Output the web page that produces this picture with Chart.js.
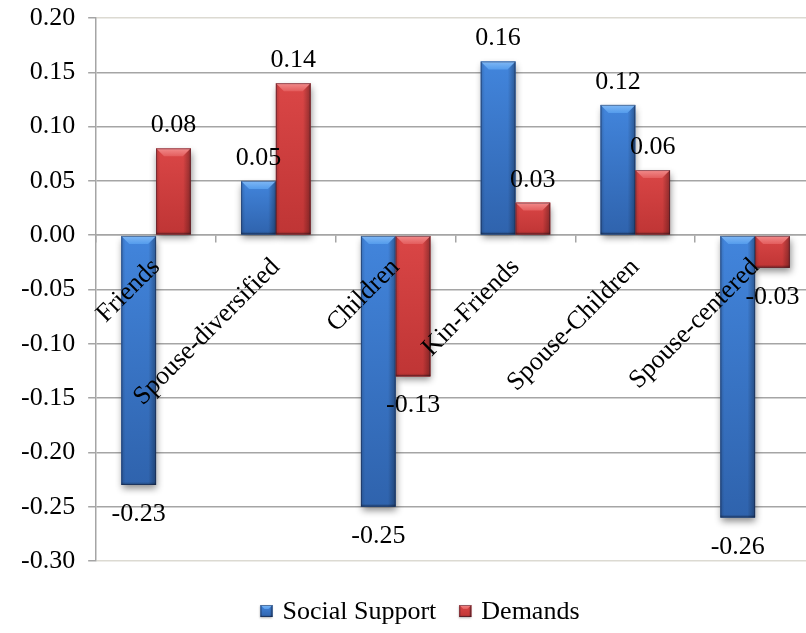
<!DOCTYPE html>
<html>
<head>
<meta charset="utf-8">
<script src="https://cdn.jsdelivr.net/npm/chart.js@4.4.0/dist/chart.umd.min.js"></script>
<style>
  html, body { margin: 0; padding: 0; background: #ffffff; overflow: hidden; }
  #wrap { width: 822px; height: 633px; }
</style>
</head>
<body>
<div id="wrap"><canvas id="chart" width="822" height="633"></canvas></div>
<script>
// Network type categories and mean scores per series
const categories = ['Friends', 'Spouse-diversified', 'Children', 'Kin-Friends', 'Spouse-Children', 'Spouse-centered'];
const socialSupport = [-0.23, 0.05, -0.25, 0.16, 0.12, -0.26];
const demands = [0.08, 0.14, -0.13, 0.03, 0.06, -0.03];
const seriesNames = ['Social Support', 'Demands'];
const yMin = -0.30;
const yMax = 0.20;
const yStep = 0.05;

const FONT = "'Liberation Serif', 'Times New Roman', serif";
Chart.defaults.font.family = FONT;
Chart.defaults.font.size = 26;
Chart.defaults.color = '#000000';

const BLUE = { top: '#4285dc', bottom: '#2f63ad', hi: '#80b8f5', hi2: '#559cec' };
const RED  = { top: '#da4646', bottom: '#bf3535', hi: '#f28c8c', hi2: '#e35d5d' };

// Bevelled bar face: shaded body, light top facet, darker bottom band, thin outline
function paintBevel(ctx, l, t, r, b, pal, bevel) {
  const w = r - l, h = b - t;
  if (w <= 0 || h <= 0) return;
  const bv = Math.min(bevel, w / 2, h);
  const sd = Math.min(Math.max(2, bevel / 2.5), h / 2);
  let g = ctx.createLinearGradient(0, t, 0, b);
  g.addColorStop(0, pal.top);
  g.addColorStop(1, pal.bottom);
  ctx.fillStyle = g;
  ctx.fillRect(l, t, w, h);
  // side shading
  g = ctx.createLinearGradient(l, 0, r, 0);
  g.addColorStop(0, 'rgba(0,0,0,0.16)');
  g.addColorStop(0.12, 'rgba(0,0,0,0)');
  g.addColorStop(0.78, 'rgba(0,0,0,0)');
  g.addColorStop(1, 'rgba(0,0,0,0.33)');
  ctx.fillStyle = g;
  ctx.fillRect(l, t, w, h);
  // top facet
  g = ctx.createLinearGradient(0, t, 0, t + bv);
  g.addColorStop(0, pal.hi);
  g.addColorStop(1, pal.hi2);
  ctx.fillStyle = g;
  ctx.beginPath();
  ctx.moveTo(l, t);
  ctx.lineTo(r, t);
  ctx.lineTo(r - bv, t + bv);
  ctx.lineTo(l + bv, t + bv);
  ctx.closePath();
  ctx.fill();
  // bottom band
  g = ctx.createLinearGradient(0, b - sd, 0, b);
  g.addColorStop(0, 'rgba(0,0,0,0)');
  g.addColorStop(1, 'rgba(0,0,0,0.3)');
  ctx.fillStyle = g;
  ctx.fillRect(l, b - sd, w, sd);
  ctx.strokeStyle = 'rgba(20,20,40,0.4)';
  ctx.lineWidth = 1;
  ctx.strokeRect(l + 0.5, t + 0.5, w - 1, h - 1);
}

const PALETTES = [BLUE, RED];

const barStyle = {
  id: 'barStyle',
  beforeDatasetsDraw(chart) {
    const ctx = chart.ctx;
    ctx.save();
    ctx.shadowColor = 'rgba(0,0,0,0.45)';
    ctx.shadowBlur = 7;
    ctx.shadowOffsetX = 1;
    ctx.shadowOffsetY = 4;
  },
  afterDatasetsDraw(chart) {
    const ctx = chart.ctx;
    ctx.restore();
    ctx.save();
    chart.data.datasets.forEach((ds, i) => {
      const meta = chart.getDatasetMeta(i);
      meta.data.forEach((bar) => {
        const p = bar.getProps(['x', 'y', 'base', 'width'], true);
        const l = p.x - p.width / 2, r = p.x + p.width / 2;
        const t = Math.min(p.y, p.base), b = Math.max(p.y, p.base);
        paintBevel(ctx, l, t, r, b, PALETTES[i], 8);
      });
    });
    // value labels above positive bars, below negative bars
    ctx.font = '26px ' + FONT;
    ctx.fillStyle = '#000000';
    ctx.textAlign = 'center';
    ctx.textBaseline = 'alphabetic';
    chart.data.datasets.forEach((ds, i) => {
      const meta = chart.getDatasetMeta(i);
      meta.data.forEach((bar, j) => {
        const v = ds.data[j];
        const p = bar.getProps(['x', 'y'], true);
        const txt = v.toFixed(2);
        if (v >= 0) ctx.fillText(txt, p.x, p.y - 16);
        else ctx.fillText(txt, p.x, p.y + 36);
      });
    });
    ctx.restore();
  }
};

// Series key along the bottom edge, centred under the plot
const seriesKey = {
  id: 'seriesKey',
  afterDraw(chart) {
    const ctx = chart.ctx;
    const centerX = 420, midY = 611, box = 12, gapText = 10, gapItem = 23;
    ctx.save();
    ctx.font = '26px ' + FONT;
    ctx.textBaseline = 'middle';
    ctx.textAlign = 'left';
    const names = chart.data.datasets.map((d) => d.label);
    const widths = names.map((n) => box + gapText + ctx.measureText(n).width);
    const total = widths.reduce((a, w) => a + w, 0) + gapItem * (names.length - 1);
    let x = centerX - total / 2;
    names.forEach((n, i) => {
      ctx.save();
      ctx.shadowColor = 'rgba(0,0,0,0.3)';
      ctx.shadowBlur = 2;
      ctx.shadowOffsetY = 1;
      ctx.fillStyle = PALETTES[i].top;
      ctx.fillRect(x, midY - box / 2, box, box);
      ctx.restore();
      paintBevel(ctx, x, midY - box / 2, x + box, midY + box / 2, PALETTES[i], 4);
      ctx.fillStyle = '#000000';
      ctx.fillText(n, x + box + gapText, midY + 1);
      x += widths[i] + gapItem;
    });
    ctx.restore();
  }
};

const isEdge = (v) => Math.abs(v - yMax) < 1e-9 || Math.abs(v - yMin) < 1e-9;

new Chart(document.getElementById('chart'), {
  type: 'bar',
  data: {
    labels: categories,
    datasets: [
      { label: seriesNames[0], data: socialSupport, backgroundColor: BLUE.top,
        categoryPercentage: 0.58, barPercentage: 1.0 },
      { label: seriesNames[1], data: demands, backgroundColor: RED.top,
        categoryPercentage: 0.58, barPercentage: 1.0 }
    ]
  },
  options: {
    responsive: false,
    animation: false,
    devicePixelRatio: 1,
    layout: { padding: { left: 8, right: 7, top: 18, bottom: 72 } },
    plugins: {
      legend: { display: false },
      tooltip: { enabled: false }
    },
    scales: {
      x: {
        type: 'category',
        position: { y: 0 },
        offset: true,
        grid: { offset: true, drawOnChartArea: false, drawTicks: true, tickLength: 7, color: '#a5a5a5', lineWidth: 1.5 },
        border: { display: true, color: '#a5a5a5', width: 1.5 },
        ticks: {
          font: { family: FONT, size: 26 },
          color: '#000000',
          minRotation: 45,
          maxRotation: 45,
          autoSkip: false,
          padding: 10,
          z: 1
        }
      },
      y: {
        min: yMin,
        max: yMax,
        afterFit: (s) => { s.paddingTop = 0; s.paddingBottom = 0; },
        grid: {
          color: (c) => (c.tick && isEdge(c.tick.value)) ? '#dcdad2' : '#a5a5a5',
          tickColor: '#a5a5a5',
          lineWidth: 1.5,
          tickLength: 8
        },
        border: { display: true, color: '#a5a5a5', width: 1.5 },
        ticks: {
          stepSize: yStep,
          font: { family: FONT, size: 26 },
          color: '#000000',
          padding: 13,
          callback: (v) => Number(v).toFixed(2)
        }
      }
    }
  },
  plugins: [barStyle, seriesKey]
});
</script>
</body>
</html>
